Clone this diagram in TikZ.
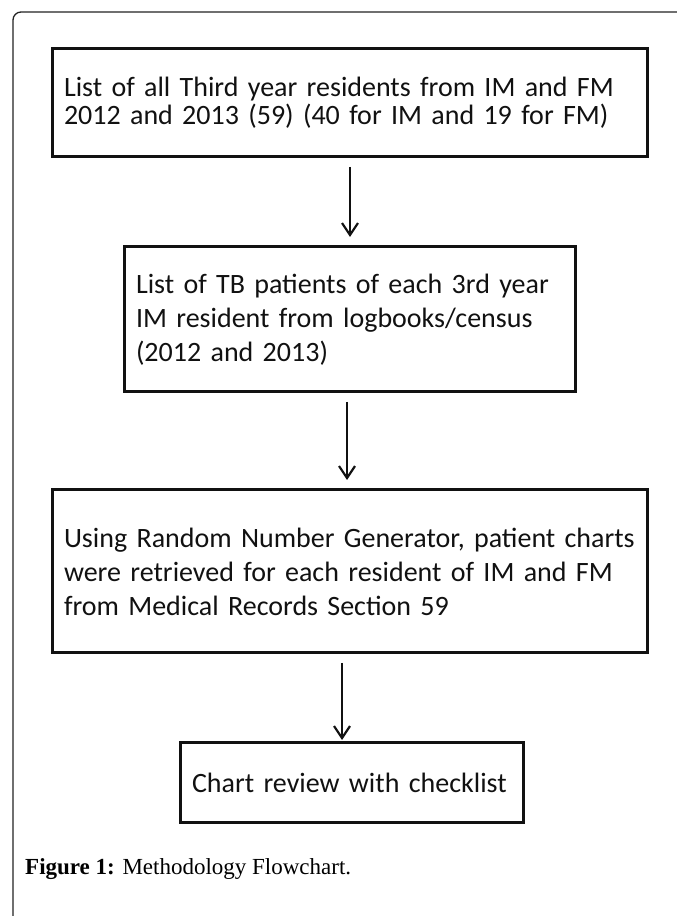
\documentclass[tikz,border=0pt]{standalone}
\usepackage{fontspec}
\setmainfont{Liberation Serif}
\newfontfamily\boxfont{Carlito}
\usepackage{tikz}
\usetikzlibrary{arrows.meta,positioning}
\definecolor{ink}{HTML}{111111}
\definecolor{framegray}{HTML}{222222}
\tikzset{
  >={Straight Barb[length=12pt,width=16pt]},
  flow/.style={->,line width=2.2pt,draw=ink,shorten <=8.5pt,shorten >=8.5pt},
  box/.style={draw=ink,line width=3pt,align=left,inner xsep=12pt,
    font=\boxfont\fontsize{28}{34}\selectfont,text=ink},
  tightbox/.style={box,font=\boxfont\fontsize{28}{28}\selectfont},
  captext/.style={font=\fontsize{23}{27}\selectfont,anchor=base west,inner sep=0pt}
}

\begin{document}
\begin{tikzpicture}[x=1pt,y=1pt]
  \useasboundingbox (0,0) rectangle (677,916);
  \draw[framegray,line width=1.3pt,rounded corners=8pt] (13,0) |- (677,904);
  \node[tightbox,text width=571pt,minimum height=108pt] (residents) at (349.5,813)
    {List of all Third year residents from IM and FM\\2012 and 2013 (59) (40 for IM and 19 for FM)};
  \node[box,text width=427pt,minimum height=145pt,below=87pt of residents] (patients)
    {List of TB patients of each 3rd year\\IM resident from logbooks/census\\(2012 and 2013)};
  \node[box,text width=571pt,minimum height=163pt,below=95pt of patients] (charts)
    {Using Random Number Generator, patient charts\\were retrieved for each resident of IM and FM\\from Medical Records Section 59};
  \node[box,text width=319pt,minimum height=80pt,below=87pt of charts,xshift=2pt] (review)
    {Chart review with checklist};
  \node[captext] (cap) at (25,41) {\textbf{Figure 1:} Methodology Flowchart.};
  \draw[flow] ([xshift=0.5pt]residents.south) -- ([xshift=0.5pt]residents.south |- patients.north);
  \draw[flow] ([xshift=-2.5pt]patients.south) -- ([xshift=-2.5pt]patients.south |- charts.north);
  \draw[flow,shorten >=1.5pt] ([xshift=-7.5pt]charts.south) -- ([xshift=-7.5pt]charts.south |- review.north);
\end{tikzpicture}
\end{document}
